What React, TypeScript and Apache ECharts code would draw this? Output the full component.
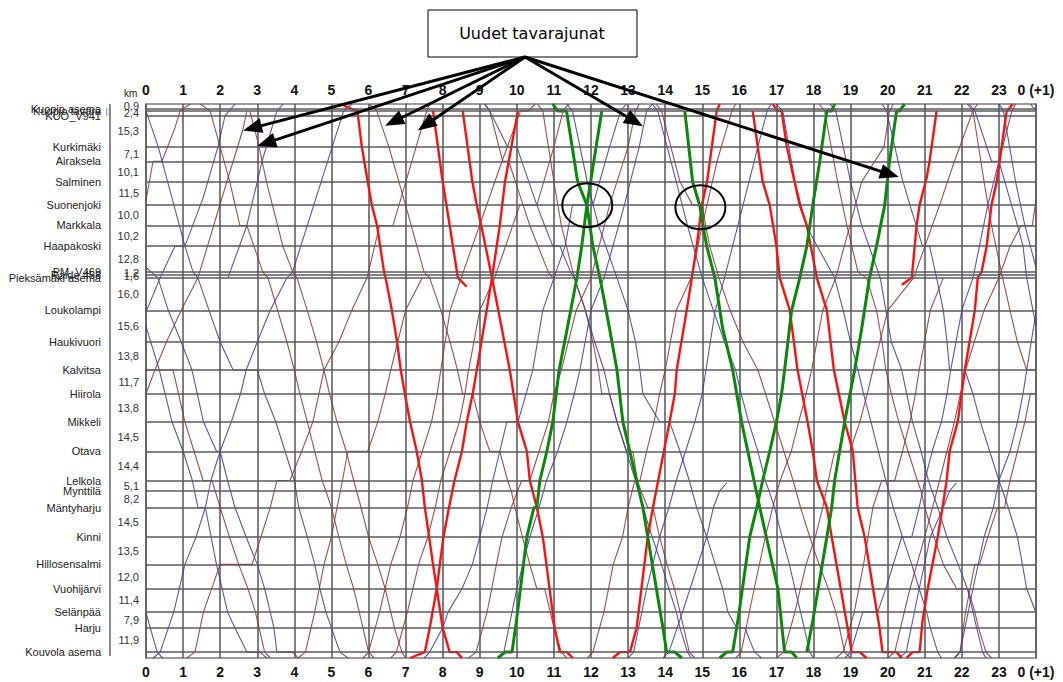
import React, { useEffect, useRef } from "react";
import * as echarts from "echarts";

// Stations from Kuopio (top) to Kouvola (bottom) and section lengths in km
const stationNames = [
  "Kuopio asema", "Kuopio tavara", "KUO_V941", "Kurkimäki", "Airaksela", "Salminen",
  "Suonenjoki", "Markkala", "Haapakoski", "PM_V469", "Raide 458", "Pieksämäki asema",
  "Loukolampi", "Haukivuori", "Kalvitsa", "Hiirola", "Mikkeli", "Otava", "Lelkola",
  "Mynttilä", "Mäntyharju", "Kinni", "Hillosensalmi", "Vuohijärvi", "Selänpää", "Harju",
  "Kouvola asema",
];
const sectionKm = [
  0.9, 2.4, 15.3, 7.1, 10.1, 11.5, 10.0, 10.2, 12.8, 1.2, 1.6, 16.0, 15.6, 13.8, 11.7,
  13.8, 14.5, 14.4, 5.1, 8.2, 14.5, 13.5, 12.0, 11.4, 7.9, 11.9,
];
const hourLabels = [
  "0", "1", "2", "3", "4", "5", "6", "7", "8", "9", "10", "11", "12", "13", "14", "15",
  "16", "17", "18", "19", "20", "21", "22", "23", "0 (+1)",
];

// Train paths as [hour, km]
const red1 = [[5.25,-2.5],[5.55,0],[5.7,0.9],[5.82,18.6],[5.98,35.8],[6.09,47.3],[6.23,57.3],[6.42,80.3],[6.46,83.1],[6.63,99.1],[6.77,114.7],[6.87,128.5],[6.98,140.2],[7.12,154],[7.3,168.5],[7.44,182.9],[7.52,196.2],[7.74,224.2],[7.84,236.2],[8.0,255.5],[8.19,267.4],[8.38,267.4],[8.52,270.3]];
const red2 = [[7.12,270.3],[7.52,267.4],[7.65,255.5],[7.84,236.2],[8.02,210.7],[8.17,196.2],[8.32,182.9],[8.52,168.5],[8.65,154],[8.81,140.2],[8.92,128.5],[9.33,83.1],[9.54,57.3],[9.68,35.8],[10.03,0.9]];
const red3 = [[7.74,0.9],[8.0,35.8],[8.19,57.3],[8.41,83.1],[8.65,87.5]];
const red4 = [[8.54,0.9],[8.8,35.8],[8.92,47.3],[9.04,57.3],[9.33,83.1],[9.81,128.5],[10.03,154],[10.27,168.5],[10.35,182.9],[10.54,196.2],[10.7,210.7],[11.02,255.5],[11.16,267.4],[11.35,267.4],[11.51,270.3]];
const red5 = [[12.59,270.3],[12.78,267.4],[13.05,267.4],[13.23,255.5],[13.53,210.7],[13.67,196.2],[14.12,154],[14.26,140.2],[14.31,128.5],[14.58,99.1],[14.72,83.1],[14.85,67.5],[14.99,47.3],[15.13,35.8],[15.39,0.9],[15.47,-2.5]];
const red6 = [[16.36,0.9],[16.63,35.8],[16.82,47.3],[17.0,67.5],[17.09,83.1],[17.36,99.1],[17.57,128.5],[17.84,154],[17.98,168.5],[18.09,182.9],[18.36,196.2],[18.49,210.7],[18.92,255.5],[19.03,267.4],[19.25,267.4],[19.43,270.3]];
const red7 = [[16.9,-2.5],[17.03,0.9],[17.14,0.9],[17.28,18.6],[17.63,47.3],[17.82,57.3],[18.09,83.1],[18.36,99.1],[18.55,128.5],[18.84,154],[19.06,168.5],[19.19,196.2],[19.38,210.7],[19.78,255.5],[19.86,267.4],[20.24,267.4],[20.38,270.3]];
const red8 = [[20.38,86.5],[20.65,83.1],[20.78,57.3],[20.86,47.3],[21.05,34.0],[21.13,25.7],[21.32,0.9]];
const red9 = [[20.51,270.3],[20.67,267.4],[20.86,267.4],[20.94,252],[21.08,236.2],[21.35,210.7],[21.48,196.2],[21.59,182.9],[21.67,168.5],[21.89,154],[22.08,128.5],[22.35,99.1],[22.43,83.1],[22.53,80.3],[22.67,67.5],[22.8,47.3],[22.94,35.8],[23.21,0.9],[23.27,0],[23.37,-2.5]];

const green1 = [[10.97,-2.5],[11.1,0.9],[11.34,0.9],[11.64,35.8],[11.89,47.3],[12.05,67.5],[12.24,83.1],[12.5,108],[12.7,128.5],[12.86,154],[13.23,182.9],[13.4,196.2],[13.53,210.7],[13.94,255.5],[14.04,267.4],[14.26,267.4],[14.45,270.3]];
const green2 = [[9.49,270.3],[9.68,267.4],[9.87,267.4],[9.99,252],[10.27,210.7],[10.46,196.2],[10.54,196.2],[10.62,182.9],[10.81,168.5],[10.97,154],[11.14,128.5],[11.36,108],[11.62,83.1],[11.75,67.5],[11.89,47.3],[12.29,0.9]];
const green3 = [[14.53,0.9],[14.74,35.8],[14.93,47.3],[15.12,67.5],[15.34,83.1],[15.55,108],[15.82,128.5],[16.06,154],[16.55,196.2],[17.04,236.2],[17.22,267.4],[17.41,267.4],[17.55,270.3]];
const green4 = [[15.47,270.3],[15.66,267.4],[15.82,267.4],[15.96,252],[16.28,210.7],[16.47,196.2],[16.63,182.9],[16.82,168.5],[17.0,154],[17.14,140.2],[17.22,128.5],[17.41,99.1],[17.63,83.1],[17.82,67.5],[17.98,47.3],[18.17,25.7],[18.36,0.9],[18.49,0.9],[18.57,-2.5]];
const green5 = [[17.82,267.4],[17.98,252],[18.36,210.7],[18.49,196.2],[18.57,182.9],[18.84,154],[19.11,128.5],[19.3,108],[19.51,83.1],[19.7,67.5],[19.92,47.3],[20.05,25.7],[20.24,0.9],[20.32,0.9],[20.46,-2.5]];

const blue1 = [[0,0.9],[0.33,18.6],[1.05,67.5],[1.27,80.3],[1.4,83.1],[1.7,99.1],[2.0,114.7],[2.35,128.5],[3.0,128.5],[3.2,140.2],[3.5,154],[3.75,168.5],[4.0,182.9],[4.12,196.2],[4.35,210.7],[4.55,224.2],[4.69,236.2],[4.85,247.6],[5.0,255.5],[5.23,267.4],[5.45,270.3]];
const blue1Prev = [[23.85,-2.5],[24,0.9]];
const blue2Prev = [[21.8,270.3],[21.95,267.4],[22.3,236.2],[22.6,210.7],[22.85,196.2],[23.0,182.9],[23.3,168.5],[23.5,154],[23.65,140.2],[23.75,128.5],[24,100]];
const blue2 = [[0,100],[0.38,83.1],[0.78,67.5],[1.05,67.5],[1.54,43.7],[1.94,18.6],[2.13,3.3],[2.4,-2.5]];
const blue3 = [[2.21,83.1],[2.72,57.3],[3.13,25.7],[3.53,0.9],[3.7,-2.5]];
const blue4 = [[0.2,270.3],[0.38,267.4],[0.75,247.6],[1.05,224.2],[1.35,210.7],[1.6,196.2],[1.75,182.9],[2.0,168.5],[2.3,154],[2.55,140.2],[2.7,128.5],[3.0,114.7],[3.35,99.1],[3.8,83.1],[3.95,80.3],[5.33,0.9],[5.55,-2.5]];
const blue5 = [[9.13,-2.5],[9.27,0.9],[9.75,18.6],[10.0,18.6],[10.54,47.3],[10.75,57.3],[10.97,67.5],[11.16,67.5],[11.45,80.3],[11.55,83.1],[11.85,99.1],[12.1,114.7],[12.35,128.5],[12.5,140.2],[12.7,154],[12.95,168.5],[13.2,182.9],[13.4,196.2],[13.65,210.7],[13.9,224.2],[14.1,236.2],[14.3,247.6],[14.4,255.5],[14.6,267.4],[14.7,270.3]];
const blue6 = [[11.35,-2.5],[11.5,0.9],[11.9,35.8],[12.2,57.3],[12.7,83.1],[13.0,99.1],[13.2,114.7],[13.32,128.5],[13.4,140.2],[13.85,154],[14.12,154],[14.4,168.5],[14.65,182.9],[14.85,196.2],[15.12,210.7],[15.35,224.2],[15.55,236.2],[15.69,247.6],[15.93,255.5],[16.15,255.5],[16.41,267.4],[16.6,270.3]];
const blue7 = [[13.94,270.3],[14.1,267.4],[14.47,247.6],[15.12,210.7],[15.3,196.2],[15.47,188],[15.66,184]];
const blue8 = [[0,107],[0.36,128.5],[0.7,154],[1.0,168.5],[1.25,182.9],[1.4,196.2],[1.6,196.2],[1.9,224.2],[2.2,247.6],[2.4,255.5],[2.72,267.4],[3.07,267.4],[3.26,270.3]];
const blue9 = [[0,78],[0.32,83.1],[0.6,99.1],[0.95,114.7],[1.24,128.5],[1.55,154],[1.9,168.5],[2.0,168.5],[2.2,182.9],[2.4,196.2],[2.7,210.7],[3.0,224.2],[3.2,236.2],[3.35,247.6],[3.45,255.5],[3.53,267.4],[3.96,267.4],[4.1,270.3]];
const blue10 = [[7.5,270.3],[7.65,267.4],[8.0,255.5],[8.15,247.6],[8.52,236.2],[8.8,224.2],[9.0,210.7],[9.2,196.2],[9.35,182.9],[9.54,168.5],[9.73,154],[10.03,154],[10.25,140.2],[10.43,128.5],[10.7,99.1],[11.0,83.1],[11.3,67.5],[11.5,47.3],[12.05,47.3],[12.5,18.6],[12.8,0.9],[12.95,-2.5]];
const blue11 = [[9.5,270.3],[9.65,267.4],[10.0,236.2],[10.35,210.7],[10.6,196.2],[10.8,182.9],[11.1,168.5],[11.35,154],[11.55,140.2],[11.7,128.5],[12.0,99.1],[12.35,83.1],[12.9,47.3],[13.3,18.6],[13.5,0.9],[13.65,-2.5]];
const blue12 = [[13.65,-2.5],[13.8,0.9],[14.3,35.8],[14.6,57.3],[15.0,83.1],[15.3,99.1],[15.6,114.7],[15.9,128.5],[16.05,140.2],[16.25,154],[16.5,168.5],[16.7,182.9],[16.8,188],[16.95,196.2],[17.15,210.7],[17.35,224.2],[17.5,236.2],[17.65,247.6],[17.75,255.5],[17.9,267.4],[18.0,270.3]];
const blue13 = [[13.0,270.3],[13.15,267.4],[13.5,236.2],[13.85,210.7],[14.1,196.2],[14.3,182.9],[14.55,168.5],[14.8,154],[15.0,140.2],[15.1,128.5],[15.35,99.1],[15.6,83.1],[16.1,47.3],[16.5,18.6],[16.75,0.9],[16.85,-2.5]];
const blue14 = [[17.0,-2.5],[17.17,0.9],[17.5,35.8],[17.8,57.3],[18.1,67.5],[18.57,83.1],[18.8,99.1],[19.0,114.7],[19.2,128.5],[19.35,140.2],[19.55,154],[19.75,168.5],[19.95,182.9],[20.15,196.2],[20.4,210.7],[20.65,224.2],[20.85,236.2],[21.05,247.6],[21.15,255.5],[21.35,267.4],[21.45,270.3]];
const blue15 = [[18.45,-2.5],[18.6,0.9],[19.0,35.8],[19.3,57.3],[19.8,83.1],[20.1,114.7],[20.38,128.5],[20.67,154],[20.9,168.5],[21.1,182.9],[21.35,196.2],[21.6,210.7],[21.9,224.2],[22.15,236.2],[22.3,247.6],[22.4,255.5],[22.56,267.4],[22.65,270.3]];
const blue16 = [[18.85,270.3],[19.0,267.4],[19.2,255.5],[19.33,247.6],[19.73,247.6],[19.95,236.2],[20.15,224.2],[20.38,210.7],[20.65,210.7],[20.85,196.2],[21.0,182.9],[21.2,168.5],[21.45,154],[21.6,140.2],[21.7,128.5],[22.0,99.1],[22.3,83.1],[22.7,47.3],[23.1,18.6],[23.35,0.9],[23.45,-2.5]];
const blue17 = [[19.85,-2.5],[19.97,0.9],[20.38,33.5],[20.6,47.3],[20.94,67.5],[21.13,67.5],[21.32,83.1],[21.5,99.1],[21.6,114.7],[21.67,128.5],[22.08,128.5],[22.3,140.2],[22.5,154],[22.75,168.5],[23.0,182.9],[23.1,188],[23.25,196.2],[23.5,210.7],[23.75,236.2],[24,248]];
const blue17Next = [[0,248],[0.3,267.4],[0.45,270.3]];
const blue18 = [[20.3,270.3],[20.5,267.4],[20.85,236.2],[21.15,210.7],[21.5,196.2],[21.67,188],[21.86,184]];
const blue19 = [[22.2,-2.5],[22.35,0.9],[22.8,25.7],[23.0,25.7],[23.5,57.3],[23.65,67.5],[23.75,83.1],[24,107]];
const blue20 = [[23.0,-2.5],[23.12,0.9],[23.45,35.8],[23.7,57.3],[24,78]];

const brown1 = [[0,45],[0.19,25.7],[0.43,25.7],[0.78,9.3],[0.92,0.9],[1.19,-2.5]];
const brown1Prev = [[20.0,270.3],[20.19,267.4],[20.6,236.2],[21.0,210.7],[21.4,182.9],[21.8,154],[22.1,128.5],[22.6,99.1],[23.0,83.1],[23.3,67.5],[23.6,57.3],[23.9,57.3],[24,45]];
const brown2 = [[1.46,-2.5],[1.73,0.9],[2.26,35.8],[2.53,57.3],[2.72,57.3],[3.15,80.3],[3.29,83.1],[3.55,99.1],[3.8,114.7],[4.0,128.5],[4.15,140.2],[4.35,154],[4.55,168.5],[4.75,182.9],[4.85,188],[5.0,196.2],[5.2,210.7],[5.4,224.2],[5.6,236.2],[5.75,247.6],[5.85,255.5],[6.0,267.4],[6.15,270.3]];
const brown3 = [[0,140.2],[0.24,128.5],[0.55,114.7],[0.95,99.1],[1.4,83.1],[2.18,35.8],[2.61,10.3],[2.72,0.9]];
const brown3Prev = [[21.8,270.3],[21.95,267.4],[22.1,247.6],[22.35,224.2],[22.48,224.2],[22.7,210.7],[22.96,196.2],[23.15,196.2],[23.3,182.9],[23.5,168.5],[23.7,154],[23.85,140.2],[24,140.2]];
const brown4 = [[2.8,0.9],[3.05,18.6],[3.25,35.8],[3.69,67.5],[3.96,80.3],[4.07,83.1],[4.35,99.1],[4.6,114.7],[4.8,128.5],[4.95,140.2],[5.15,154],[5.4,168.5],[5.6,182.9],[5.8,196.2],[6.0,210.7],[6.25,224.2],[6.45,236.2],[6.6,247.6],[6.7,255.5],[6.9,267.4],[7.0,270.3]];
const brown5 = [[1.1,270.3],[1.32,267.4],[1.55,247.6],[2.0,224.2],[2.86,224.2],[3.1,210.7],[3.35,196.2],[3.53,182.9],[3.88,182.9],[4.2,168.5],[4.5,154],[4.8,128.5],[5.2,114.7],[5.55,99.1],[5.96,83.1],[6.3,57.3],[6.66,57.3],[7.57,0.9],[7.65,-2.5]];
const brown6 = [[6.03,-2.5],[6.22,0.9],[6.55,18.6],[7.0,47.3],[7.5,80.3],[7.65,83.1],[7.95,99.1],[8.2,114.7],[8.4,128.5],[8.54,140.2],[8.81,140.2],[9.0,154],[9.27,168.5],[9.54,168.5],[9.75,182.9],[9.85,188],[9.95,196.2],[10.15,210.7],[10.35,224.2],[10.54,236.2],[10.75,236.2],[10.9,247.6],[11.0,255.5],[11.2,267.4],[11.35,270.3]];
const brown7 = [[9.13,-2.5],[9.27,0.9],[9.62,25.7],[9.78,25.7],[10.35,57.3],[10.85,80.3],[10.97,83.1]];
const brown8 = [[4.1,270.3],[4.3,267.4],[4.55,247.6],[4.8,224.2],[5.0,210.7],[5.15,196.2],[5.3,182.9],[5.44,168.5],[5.98,168.5],[6.25,154],[6.45,140.2],[6.6,128.5],[7.0,99.1],[7.45,83.1]];
const brown9 = [[5.85,270.3],[6.0,267.4],[6.3,247.6],[6.6,224.2],[6.85,210.7],[7.05,196.2],[7.2,182.9],[7.45,168.5],[7.7,154],[7.85,140.2],[7.95,128.5],[8.2,99.1],[8.5,83.1],[9.6,25.7],[10.1,0.9],[10.3,0.9],[10.5,-2.5]];
const brown10 = [[6.6,270.3],[6.75,267.4],[7.05,247.6],[7.35,224.2],[7.6,210.7],[7.8,196.2],[7.95,182.9],[8.2,168.5],[8.45,154],[8.6,140.2],[8.7,128.5],[9.0,99.1],[9.4,83.1],[10.08,47.3],[10.54,47.3],[11.0,18.6],[11.25,0.9],[11.4,-2.5]];
const brown11 = [[0,128.5],[0.73,128.5],[1.05,154],[1.54,182.9],[1.78,182.9],[2.0,196.2],[2.25,210.7],[2.5,224.2],[2.75,236.2],[2.95,247.6],[3.05,255.5],[3.2,267.4],[3.35,270.3]];
const brown11Prev = [[22.15,-2.5],[22.3,0.9],[22.6,35.8],[22.8,57.3],[23.1,83.1],[23.3,99.1],[23.5,114.7],[23.75,128.5],[24,128.5]];
const brown12 = [[8.7,270.3],[8.9,267.4],[9.2,247.6],[9.45,224.2],[9.6,210.7],[9.85,196.2],[10.13,182.9],[10.35,182.9],[10.6,168.5],[10.85,154],[11.0,140.2],[11.2,128.5],[11.6,99.1],[12.0,83.1],[12.5,47.3],[13.0,18.6],[13.2,0.9],[13.3,-2.5]];
const brown13 = [[10.55,-2.5],[10.7,0.9],[11.0,35.8],[11.2,57.3],[11.55,83.1],[11.85,99.1],[12.05,114.7],[12.2,128.5],[12.29,140.2],[12.5,140.2],[12.7,154],[12.96,168.5],[13.13,168.5],[13.25,182.9],[13.35,188],[13.53,196.2],[13.67,196.2],[13.85,210.7],[14.05,224.2],[14.25,236.2],[14.4,247.6],[14.5,255.5],[14.65,267.4],[14.8,270.3]];
const brown14 = [[11.9,270.3],[12.05,267.4],[12.35,247.6],[12.6,224.2],[12.85,210.7],[13.0,196.2],[13.18,182.9],[13.32,182.9],[13.5,168.5],[13.7,154],[13.85,140.2],[14.0,128.5],[14.3,99.1],[14.7,83.1],[15.0,57.3],[15.4,25.7],[15.8,0.9],[15.9,-2.5]];
const brown15 = [[13.75,-2.5],[13.9,0.9],[14.4,35.8],[14.74,47.3],[14.99,47.3],[15.2,67.5],[15.45,83.1],[15.75,99.1],[16.1,114.7],[16.5,128.5],[16.95,154],[17.2,168.5],[17.45,182.9],[17.65,196.2],[17.9,210.7],[18.15,224.2],[18.4,236.2],[18.6,247.6],[18.7,255.5],[18.84,267.4],[19.0,270.3]];
const brown16 = [[15.9,270.3],[16.05,267.4],[16.4,236.2],[16.7,210.7],[16.9,196.2],[17.1,182.9],[17.4,168.5],[17.6,154],[17.8,140.2],[17.95,128.5],[18.25,99.1],[18.6,83.1],[19.3,35.8],[19.9,18.6],[20.05,0.9],[20.15,-2.5]];
const brown17 = [[18.15,-2.5],[18.3,0.9],[18.65,35.8],[18.9,57.3],[19.2,80.3],[19.43,83.1],[19.7,99.1],[19.85,114.7],[19.95,128.5],[20.1,140.2],[20.3,154],[20.55,168.5],[20.8,182.9],[20.9,188],[21.0,196.2],[21.25,210.7],[21.5,224.2],[21.86,236.2],[22.16,236.2],[22.35,247.6],[22.45,255.5],[22.65,267.4],[22.8,270.3]];
const brown18 = [[17.0,270.3],[17.2,267.4],[17.5,247.6],[17.8,224.2],[18.05,210.7],[18.25,196.2],[18.4,182.9],[18.57,168.5],[18.98,168.5],[19.25,154],[19.45,140.2],[19.6,128.5],[20.0,99.1],[20.7,83.1],[21.4,47.3],[21.8,25.7],[22.3,0.9],[22.42,-2.5]];
const brown19 = [[18.6,270.3],[18.8,267.4],[19.1,247.6],[19.35,224.2],[19.6,196.2],[19.84,182.9],[20.19,182.9],[20.4,168.5],[20.6,154],[20.75,140.2],[20.85,128.5],[21.15,99.1],[21.5,83.1]];

const redTrains = [red1, red2, red3, red4, red5, red6, red7, red8, red9];
const greenTrains = [green1, green2, green3, green4, green5];
const blueTrains = [
  blue1, blue1Prev, blue2Prev, blue2, blue3, blue4, blue5, blue6, blue7, blue8, blue9, blue10,
  blue11, blue12, blue13, blue14, blue15, blue16, blue17, blue17Next, blue18, blue19, blue20,
];
const brownTrains = [
  brown1, brown1Prev, brown2, brown3, brown3Prev, brown4, brown5, brown6, brown7, brown8, brown9,
  brown10, brown11, brown11Prev, brown12, brown13, brown14, brown15, brown16, brown17, brown18, brown19,
];

// Annotation targets [hour, km]
const arrowTargets = [[2.62, 10.5], [3.0, 18.2], [6.45, 8.2], [7.33, 10.5], [13.4, 8.4], [20.3, 33.5]];
const circleCenters = [[11.9, 47.3], [14.95, 48.3]];

const stationKm = sectionKm.reduce<number[]>((acc, d) => {
  acc.push(Math.round((acc[acc.length - 1] + d) * 10) / 10);
  return acc;
}, [0]);
const sectionMid = sectionKm.map((d, i) => stationKm[i] + d / 2);

const Y_MIN = -2.5;
const Y_MAX = 270.3;
const FONT = "'Liberation Sans', Arial, sans-serif";

// Blank end labels keep the axis from hiding the first and last real labels
const stationLabelValues = [Y_MIN, ...stationKm, Y_MAX];
const sectionLabelValues = [Y_MIN, ...sectionMid, Y_MAX];

function trainSeries(pts: number[][], color: string, width: number, opacity: number) {
  return {
    type: "line",
    data: pts,
    showSymbol: false,
    symbol: "none",
    silent: true,
    z: 3,
    lineStyle: { color, width, opacity },
  };
}

export default function App() {
  const ref = useRef<HTMLDivElement>(null);

  useEffect(() => {
    if (!ref.current) return;
    const chart = echarts.init(ref.current, undefined, { renderer: "svg" });

    const series: any[] = [
      {
        type: "line",
        data: [[0, stationKm[0]]],
        showSymbol: false,
        symbol: "none",
        silent: true,
        z: 1,
        lineStyle: { opacity: 0 },
        markLine: {
          silent: true,
          symbol: ["none", "none"],
          label: { show: false },
          lineStyle: { color: "#5a5a5a", width: 1.5, type: "solid" },
          data: stationKm.map((k) => ({ yAxis: k })),
        },
      },
    ];
    brownTrains.forEach((t) => series.push(trainSeries(t, "#8f2f2f", 1.1, 0.85)));
    blueTrains.forEach((t) => series.push(trainSeries(t, "#3a3aa0", 1.1, 0.85)));
    redTrains.forEach((t) => series.push(trainSeries(t, "#ff0f0f", 2.4, 1)));
    greenTrains.forEach((t) => series.push(trainSeries(t, "#078a07", 3, 1)));

    const hourAxis = (position: "top" | "bottom", split: boolean) => ({
      type: "value",
      position,
      min: 0,
      max: 24,
      interval: 1,
      axisLine: { show: false },
      axisTick: { show: false },
      splitLine: { show: split, lineStyle: { color: "#555", width: 1.5 } },
      axisLabel: {
        margin: 7,
        showMinLabel: true,
        showMaxLabel: true,
        fontFamily: FONT,
        fontWeight: "bold",
        fontSize: 14,
        color: "#111",
        formatter: (v: number) => hourLabels[Math.round(v)] ?? "",
      },
    });

    chart.setOption({
      animation: false,
      backgroundColor: "#fff",
      grid: {
        left: 146,
        top: 104,
        right: 27,
        bottom: 24,
        show: true,
        borderColor: "#9a9a9a",
        borderWidth: 2,
        backgroundColor: "transparent",
      },
      xAxis: [hourAxis("bottom", true), hourAxis("top", false)],
      yAxis: [
        {
          type: "value",
          inverse: true,
          min: Y_MIN,
          max: Y_MAX,
          axisLine: { show: false },
          axisTick: { show: false, customValues: stationLabelValues },
          splitLine: { show: false },
          axisLabel: {
            customValues: stationLabelValues,
            margin: 45,
            fontFamily: FONT,
            fontSize: 11,
            color: "#222",
            formatter: (v: number) => {
              const i = stationKm.findIndex((k) => Math.abs(k - v) < 1e-6);
              return i >= 0 ? stationNames[i] : "";
            },
          },
        },
        {
          type: "value",
          inverse: true,
          position: "left",
          min: Y_MIN,
          max: Y_MAX,
          axisLine: { show: false },
          axisTick: { show: false, customValues: sectionLabelValues },
          splitLine: { show: false },
          axisLabel: {
            customValues: sectionLabelValues,
            margin: 7,
            fontFamily: FONT,
            fontSize: 11,
            color: "#333",
            formatter: (v: number) => {
              const i = sectionMid.findIndex((k) => Math.abs(k - v) < 1e-6);
              if (i < 0) return "";
              const txt = sectionKm[i].toFixed(1).replace(".", ",");
              return i === 0 ? `{up|${txt}}` : txt;
            },
            rich: { up: { fontFamily: FONT, fontSize: 11, color: "#333", padding: [0, 0, 8, 0] } },
          },
        },
      ],
      series,
    });

    // Annotation layer: callout box, arrows and circles placed through the axes
    const origin = [525, 57];
    const els: any[] = [
      {
        type: "rect",
        shape: { x: 428, y: 10, width: 209, height: 47 },
        style: { fill: "#fff", stroke: "#000", lineWidth: 1 },
        z: 100,
      },
      {
        type: "text",
        x: 532,
        y: 33,
        style: {
          text: "Uudet tavarajunat",
          fontFamily: "'DejaVu Sans', Verdana, sans-serif",
          fontSize: 16,
          fill: "#000",
          align: "center",
          verticalAlign: "middle",
        },
        z: 101,
      },
      {
        type: "text",
        x: 124,
        y: 93,
        style: { text: "km", fontFamily: FONT, fontSize: 10, fill: "#222", align: "left", verticalAlign: "middle" },
        z: 100,
      },
      {
        type: "line",
        shape: { x1: 110, y1: 104, x2: 110, y2: 656 },
        style: { stroke: "#8a8a8a", lineWidth: 2 },
        z: 100,
      },
      {
        type: "text",
        x: 108,
        y: 112,
        style: { text: "II", fontFamily: FONT, fontSize: 10, fill: "#888", align: "center", verticalAlign: "middle" },
        z: 100,
      },
    ];
    arrowTargets.forEach((t) => {
      const p = chart.convertToPixel({ xAxisIndex: 0, yAxisIndex: 0 }, t) as number[];
      const dx = p[0] - origin[0];
      const dy = p[1] - origin[1];
      const len = Math.hypot(dx, dy);
      const ux = dx / len;
      const uy = dy / len;
      const headLen = 19;
      const headW = 7.5;
      const bx = p[0] - ux * headLen;
      const by = p[1] - uy * headLen;
      els.push({
        type: "line",
        shape: { x1: origin[0], y1: origin[1], x2: bx + ux * 2, y2: by + uy * 2 },
        style: { stroke: "#000", lineWidth: 3 },
        z: 100,
      });
      els.push({
        type: "polygon",
        shape: { points: [[p[0], p[1]], [bx - uy * headW, by + ux * headW], [bx + uy * headW, by - ux * headW]] },
        style: { fill: "#000" },
        z: 101,
      });
    });
    circleCenters.forEach((c) => {
      const p = chart.convertToPixel({ xAxisIndex: 0, yAxisIndex: 0 }, c) as number[];
      els.push({
        type: "ellipse",
        shape: { cx: p[0], cy: p[1], rx: 25, ry: 22 },
        style: { fill: "none", stroke: "#000", lineWidth: 2 },
        z: 100,
      });
    });
    chart.setOption({ graphic: els });

    return () => chart.dispose();
  }, []);

  return (
    <div
      ref={ref}
      style={{ position: "fixed", left: 0, top: 0, width: 1063, height: 682, background: "#fff" }}
    />
  );
}
